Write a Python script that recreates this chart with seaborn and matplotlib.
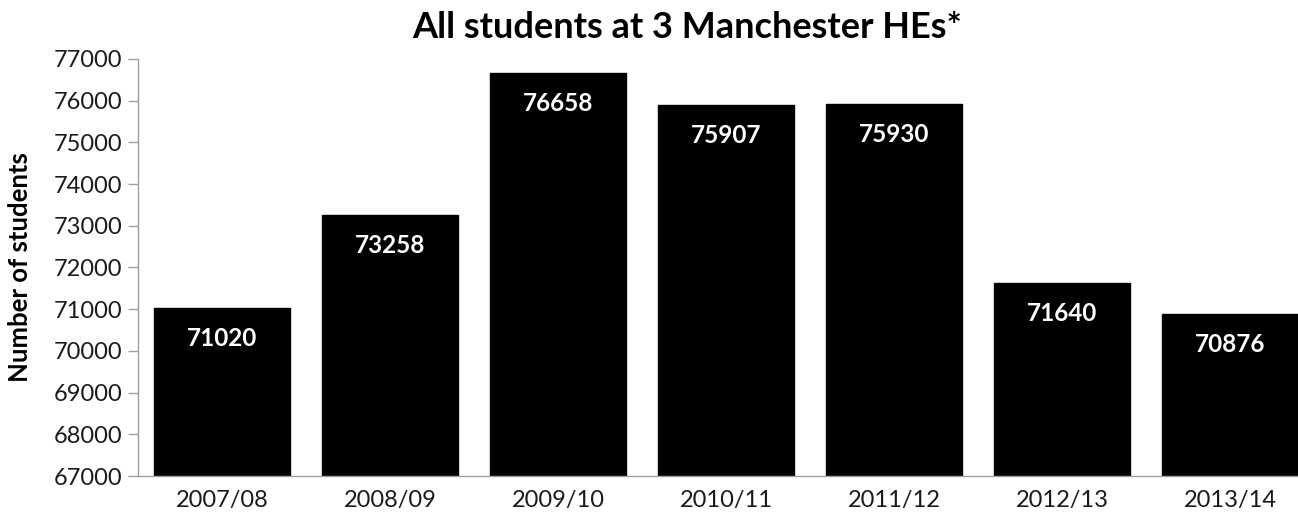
import matplotlib
matplotlib.use("Agg")
import matplotlib.pyplot as plt
import seaborn as sns
import pandas as pd
import numpy as np

years = ["2007/08", "2008/09", "2009/10", "2010/11", "2011/12", "2012/13", "2013/14"]
students = [71020, 73258, 76658, 75907, 75930, 71640, 70876]
yticks = list(range(67000, 77001, 1000))

sns.set_style("white")
plt.rcParams['font.family'] = ['Lato', 'DejaVu Sans']

df = pd.DataFrame({"year": years, "students": students})

fig = plt.figure(figsize=(12.98, 5.22), dpi=100)
ax = fig.add_axes([0.1063, 0.0881, 0.9060, 0.7989])
sns.barplot(data=df, x="year", y="students", color="black", saturation=1,
            width=0.81, ax=ax, edgecolor="black")

ax.set_ylim(67000, 77000)
ax.set_xlim(-0.5, len(years) - 0.5)
ax.set_yticks(yticks)
ax.set_yticklabels([str(t) for t in yticks], fontsize=17, color="#1a1a1a")
ax.set_xticks(range(len(years)))
ax.set_xticklabels(years, fontsize=17, color="#1a1a1a")
ax.set_xticks(np.arange(-0.5, len(years), 1.0), minor=True)
ax.tick_params(axis="x", which="major", length=0, pad=10)
ax.tick_params(axis="x", which="minor", length=6, color="#a0a0a0", width=1, direction="out")
ax.tick_params(axis="y", length=7, color="#a0a0a0", width=1, direction="out", pad=4, left=True)

for s in ["top", "right"]:
    ax.spines[s].set_visible(False)
for s in ["left", "bottom"]:
    ax.spines[s].set_color("#a0a0a0")
    ax.spines[s].set_linewidth(1)

ax.set_xlabel("")
ax.set_ylabel("Number of students", fontsize=18.5, fontweight="bold", color="black")
ax.yaxis.set_label_coords(-0.0901, 0.5)

for i, v in enumerate(students):
    ax.annotate(str(v), xy=(i, v), xytext=(0, -22), textcoords="offset points",
                ha="center", va="center", color="white", fontsize=17.5, fontweight="bold")

fig.text(0.529, 0.948, "All students at 3 Manchester HEs*", ha="center", va="center",
         fontsize=26, fontweight="bold", color="black")

fig.savefig("out.png", dpi=100)
